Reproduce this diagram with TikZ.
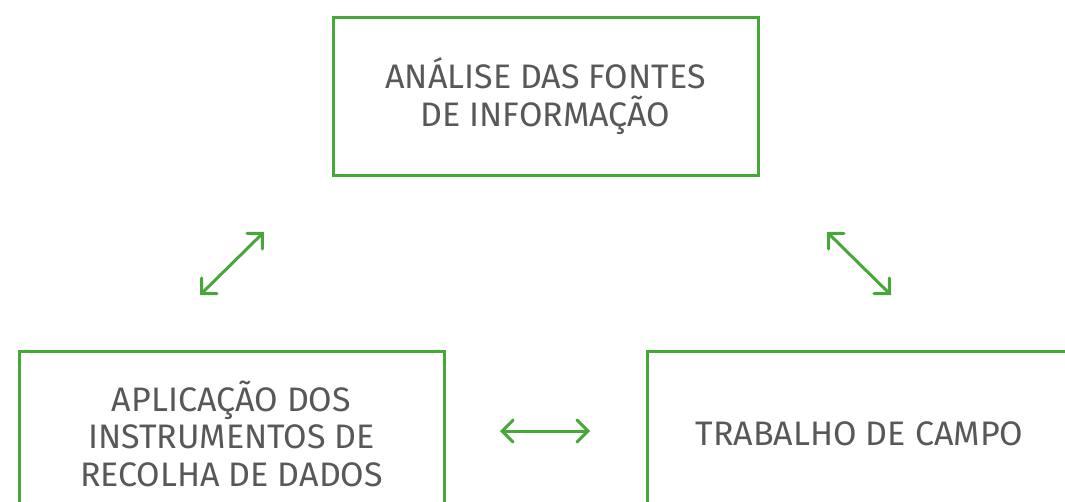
\documentclass[tikz,border=0pt]{standalone}
\usepackage{fontspec}
\setmainfont{Fira Sans}
\usetikzlibrary{arrows.meta}
\definecolor{boxgreen}{HTML}{46A837}
\definecolor{txtgray}{HTML}{585858}
\tikzset{
  box/.style={draw=boxgreen, line width=3pt, minimum width=425pt, align=center,
    text=txtgray, font=\fontsize{34}{37.5}\selectfont, inner sep=0pt},
  dbl/.style={draw=boxgreen, line width=3pt, {Straight Barb[length=11pt,width=22pt,line cap=round]}-{Straight Barb[length=11pt,width=22pt,line cap=round]}}
}
\begin{document}
\begin{tikzpicture}[x=1pt,y=-1pt]
\useasboundingbox (0,0) rectangle (1065,501);
\fill[white] (0,0) rectangle (1065,501);
\node[box, minimum height=158pt] (top) at (545.5,96) {ANÁLISE DAS FONTES\\DE INFORMAÇÃO};
\node[box, minimum height=165pt] (left) at (231.5,433.5) {APLICAÇÃO DOS\\INSTRUMENTOS DE\\RECOLHA DE DADOS};
\node[box, minimum height=165pt] (right) at (859.5,433.5) {TRABALHO DE CAMPO};
\coordinate (a1) at (200,295);
\coordinate (a2) at (264,232);
\coordinate (b1) at (827,232);
\coordinate (b2) at (891,295);
\coordinate (c1) at (500,431);
\coordinate (c2) at (590,431);
\draw[dbl] (a1) -- (a2);
\draw[dbl] (b1) -- (b2);
\draw[dbl] (c1) -- (c2);
\end{tikzpicture}
\end{document}
